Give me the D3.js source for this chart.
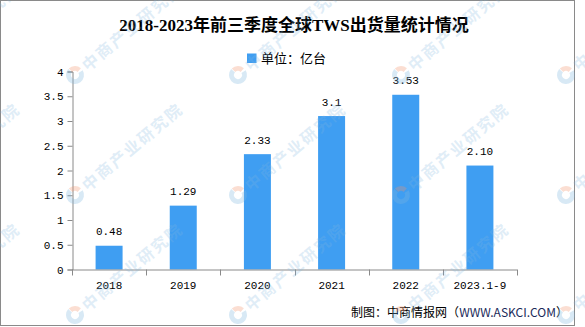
<!DOCTYPE html>
<html>
<head>
<meta charset="utf-8">
<script src="https://cdn.jsdelivr.net/npm/d3@7"></script>
<style>
  html, body { margin: 0; padding: 0; background: #fff; }
  svg { display: block; }
</style>
</head>
<body>
<svg id="chart" width="585" height="327"></svg>
<script>
// TWS shipments, first three quarters of each year (unit: 亿台)
const categories = ["2018", "2019", "2020", "2021", "2022", "2023.1-9"];
const shipments = [0.48, 1.29, 2.33, 3.1, 3.53, 2.10];
const valueLabels = ["0.48", "1.29", "2.33", "3.1", "3.53", "2.10"];
const yTickValues = [0, 0.5, 1, 1.5, 2, 2.5, 3, 3.5, 4];

const titleText = "2018-2023年前三季度全球TWS出货量统计情况";
const legendText = "单位：亿台";
const sourceCn = "制图：中商情报网（";
const sourceEn = "WWW.ASKCI.COM";
const sourceEnd = "）";
const watermarkText = "中商产业研究院";

const barColor = "#3f9ef2";
const axisColor = "#8a8a8a";
const tickFont = "'Liberation Mono', 'DejaVu Sans Mono', monospace";
const cjkFont = "'Noto Sans CJK SC', sans-serif";

const svg = d3.select("#chart");

const plot = { left: 72, right: 517, top: 71.5, bottom: 269.5 };

const x = d3.scaleBand()
  .domain(categories)
  .range([plot.left, plot.right])
  .paddingInner(0.636)
  .paddingOuter(0.318);

const y = d3.scaleLinear()
  .domain([0, 4])
  .range([plot.bottom, plot.top]);

// outer frame
svg.append("rect")
  .attr("x", 0.5).attr("y", 0.5)
  .attr("width", 574).attr("height", 325)
  .attr("fill", "none")
  .attr("stroke", axisColor)
  .attr("stroke-width", 1);

// title
svg.append("text")
  .attr("x", 294).attr("y", 31)
  .attr("text-anchor", "middle")
  .attr("font-family", "'Liberation Serif', 'Noto Sans CJK SC', serif")
  .attr("font-weight", "bold")
  .attr("font-size", 17)
  .attr("fill", "#000")
  .text(titleText);

// legend
const legend = svg.append("g");
legend.append("rect")
  .attr("x", 247).attr("y", 53.5)
  .attr("width", 9.5).attr("height", 9.5)
  .attr("fill", barColor);
legend.append("text")
  .attr("x", 261).attr("y", 63)
  .attr("font-family", cjkFont)
  .attr("font-size", 13)
  .attr("fill", "#000")
  .text(legendText);

// bars
svg.append("g")
  .selectAll("rect")
  .data(shipments)
  .join("rect")
  .attr("x", (d, i) => x(categories[i]))
  .attr("y", d => y(d))
  .attr("width", x.bandwidth())
  .attr("height", d => y(0) - y(d))
  .attr("fill", barColor);

// value labels
svg.append("g")
  .selectAll("text")
  .data(shipments)
  .join("text")
  .attr("x", (d, i) => x(categories[i]) + x.bandwidth() / 2)
  .attr("y", d => y(d) - 10.5)
  .attr("text-anchor", "middle")
  .attr("font-family", tickFont)
  .attr("font-size", 11)
  .attr("fill", "#000")
  .text((d, i) => valueLabels[i]);

// y axis
const yAxis = svg.append("g")
  .attr("transform", `translate(${plot.left + 0.5},0)`)
  .call(d3.axisLeft(y).tickValues(yTickValues).tickSize(5).tickPadding(4).tickFormat(d3.format("")));
yAxis.select(".domain").attr("stroke", axisColor);
yAxis.selectAll(".tick line").attr("stroke", axisColor);
yAxis.selectAll(".tick text")
  .attr("font-family", tickFont)
  .attr("font-size", 11)
  .attr("fill", "#000");

// x axis with ticks on category boundaries
const xAxis = svg.append("g");
const step = x.step();
const boundaries = d3.range(categories.length + 1).map(i => plot.left + i * step);
xAxis.append("line")
  .attr("x1", plot.left).attr("x2", plot.right)
  .attr("y1", plot.bottom + 0.5).attr("y2", plot.bottom + 0.5)
  .attr("stroke", axisColor);
xAxis.selectAll(".bt")
  .data(boundaries)
  .join("line")
  .attr("class", "bt")
  .attr("x1", d => Math.round(d) + 0.5).attr("x2", d => Math.round(d) + 0.5)
  .attr("y1", plot.bottom).attr("y2", plot.bottom + 6)
  .attr("stroke", axisColor);
xAxis.selectAll("text")
  .data(categories)
  .join("text")
  .attr("x", d => x(d) + x.bandwidth() / 2)
  .attr("y", 289)
  .attr("text-anchor", "middle")
  .attr("font-family", tickFont)
  .attr("font-size", 11)
  .attr("fill", "#000")
  .text(d => d);

// source note
const src = svg.append("text")
  .attr("x", 568).attr("y", 317)
  .attr("text-anchor", "end")
  .attr("font-family", cjkFont)
  .attr("font-size", 12);
src.append("tspan").attr("fill", "#000").text(sourceCn);
src.append("tspan").attr("fill", "#1a2a5a").text(sourceEn);
src.append("tspan").attr("fill", "#000").text(sourceEnd);

// repeated faint brand marks across the canvas
const markCols = [-88, 75, 238, 401, 566];
const markRows = [75, 195, 315];
const marks = [];
markRows.forEach(r => markCols.forEach(c => marks.push({ cx: c, cy: r })));

const wm = svg.append("g").attr("pointer-events", "none");
const markG = wm.selectAll("g")
  .data(marks)
  .join("g")
  .attr("transform", d => `translate(${d.cx},${d.cy}) rotate(-40)`);

const ring = d3.arc().innerRadius(4).outerRadius(9);
markG.append("path")
  .attr("d", ring({ startAngle: Math.PI * 0.55, endAngle: Math.PI * 1.95 }))
  .attr("fill", "#7fb6de")
  .attr("opacity", 0.3);
markG.append("path")
  .attr("d", ring({ startAngle: -Math.PI * 0.02, endAngle: Math.PI * 0.45 }))
  .attr("fill", "#f2926a")
  .attr("opacity", 0.3);
markG.append("text")
  .attr("x", 12).attr("y", 6)
  .attr("font-family", cjkFont)
  .attr("font-weight", "bold")
  .attr("font-size", 16)
  .attr("letter-spacing", 2)
  .attr("fill", "#7fb6de")
  .attr("opacity", 0.24)
  .text(watermarkText);
</script>
</body>
</html>
